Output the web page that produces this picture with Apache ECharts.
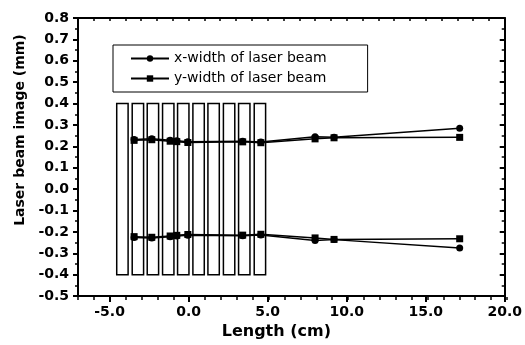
<!DOCTYPE html>
<html>
<head>
<meta charset="utf-8">
<script src="https://cdn.jsdelivr.net/npm/echarts@6/dist/echarts.min.js"></script>
<style>
	html, body {margin: 0; padding: 0; background: #fff;}
	#chart {width: 525px; height: 345px;}
</style>
</head>
<body>
<div id="chart"></div>
<script>
// positions along the beam (cm)
var lengths = [-3.45, -2.33, -1.17, -0.75, -0.05, 3.42, 4.57, 8.0, 9.2, 17.15];
// x-width, upper and lower edge (mm)
var xWidthTop = [0.232, 0.235, 0.228, 0.226, 0.222, 0.224, 0.220, 0.245, 0.242, 0.285];
var xWidthBottom = [-0.226, -0.228, -0.222, -0.219, -0.215, -0.218, -0.214, -0.240, -0.236, -0.275];
// y-width, upper and lower edge (mm)
var yWidthTop = [0.228, 0.231, 0.224, 0.222, 0.218, 0.221, 0.217, 0.235, 0.240, 0.242];
var yWidthBottom = [-0.222, -0.225, -0.219, -0.216, -0.212, -0.215, -0.211, -0.228, -0.235, -0.232];
// the ten plates drawn as boxes (cm start, width) and their height (mm)
var plateStart = [-4.55, -3.57, -2.62, -1.65, -0.70, 0.27, 1.22, 2.20, 3.16, 4.15];
var plateWidth = 0.72;
var plateTop = 0.4, plateBottom = -0.4;
var xMajor = [-5, 0, 5, 10, 15, 20];

var chart = echarts.init(document.getElementById('chart'));

function pairs(ys) {
	var out = [];
	for (var i = 0; i < lengths.length; i++) {
		out.push([lengths[i], ys[i]]);
	}
	return out;
}

var plates = [];
for (var i = 0; i < plateStart.length; i++) {
	plates.push([plateStart[i], plateStart[i] + plateWidth, plateBottom, plateTop]);
}

var fontFam = '"DejaVu Sans", sans-serif';
var black = '#000';
var gridBox = {left: 78, right: 18, top: 18, bottom: 48};

function lineSeries(name, symbol, data) {
	return {
		name: name,
		type: 'line',
		symbol: symbol,
		symbolSize: 7,
		data: data,
		lineStyle: {color: black, width: 1.5},
		itemStyle: {color: black},
		z: 5
	};
}

var option = {
	animation: false,
	backgroundColor: '#fff',
	// second grid sits on the first one, only to carry the small ticks of the bottom axis
	grid: [gridBox, gridBox],
	legend: {
		orient: 'vertical',
		left: 113,
		top: 45,
		data: ['x-width of laser beam', 'y-width of laser beam'],
		itemWidth: 38,
		itemHeight: 8,
		itemGap: 5,
		padding: [6, 41, 6, 17],
		borderColor: black,
		borderWidth: 1,
		textStyle: {color: black, fontFamily: fontFam, fontSize: 14, lineHeight: 15}
	},
	xAxis: [
		{
			type: 'value', position: 'bottom', min: -7, max: 20, interval: 1,
			name: 'Length (cm)', nameLocation: 'middle', nameGap: 26,
			nameTextStyle: {color: black, fontFamily: fontFam, fontSize: 16, fontWeight: 'bold', padding: [0, 30, 0, 0]},
			axisLine: {onZero: false, lineStyle: {color: black, width: 2}},
			axisTick: {show: true, inside: false, length: 6, lineStyle: {width: 2}, customValues: xMajor},
			axisLabel: {color: black, fontFamily: fontFam, fontSize: 14, fontWeight: 'bold', margin: 9,
				customValues: xMajor, formatter: function (v) { return v.toFixed(1); }},
			splitLine: {show: false}
		},
		{
			type: 'value', position: 'top', min: -7, max: 20, interval: 1,
			axisLine: {onZero: false, lineStyle: {color: black, width: 2}},
			axisTick: {show: true, inside: true, length: 3, lineStyle: {width: 1.5}},
			axisLabel: {show: false},
			splitLine: {show: false}
		},
		{
			gridIndex: 1,
			type: 'value', position: 'bottom', min: -7, max: 20, interval: 1,
			axisLine: {show: false, onZero: false},
			axisTick: {show: true, inside: false, length: 3, lineStyle: {color: black, width: 1.5}},
			axisLabel: {show: false},
			splitLine: {show: false}
		}
	],
	yAxis: [
		{
			type: 'value', position: 'left', min: -0.5, max: 0.8, interval: 0.1,
			name: 'Laser beam image (mm)', nameLocation: 'middle', nameGap: 50,
			nameTextStyle: {color: black, fontFamily: fontFam, fontSize: 14, fontWeight: 'bold', padding: [0, 0, 0, 54]},
			axisLine: {onZero: false, lineStyle: {color: black, width: 2}},
			axisTick: {show: true, inside: false, length: 5, lineStyle: {width: 2}},
			minorTick: {show: true, splitNumber: 2, length: 3, lineStyle: {color: black, width: 1.5}},
			axisLabel: {color: black, fontFamily: fontFam, fontSize: 14, fontWeight: 'bold', margin: 9,
				formatter: function (v) { return v.toFixed(1); }},
			splitLine: {show: false}
		},
		{
			type: 'value', position: 'right', min: -0.5, max: 0.8, interval: 0.1,
			axisLine: {onZero: false, lineStyle: {color: black, width: 2}},
			axisTick: {show: true, inside: true, length: 5, lineStyle: {width: 2}},
			minorTick: {show: true, splitNumber: 2, length: 3, lineStyle: {color: black, width: 1.5}},
			axisLabel: {show: false},
			splitLine: {show: false}
		},
		{
			gridIndex: 1,
			type: 'value', min: -0.5, max: 0.8, show: false
		}
	],
	series: [
		{
			type: 'custom',
			silent: true,
			z: 2,
			data: plates,
			renderItem: function (params, api) {
				var p0 = api.coord([api.value(0), api.value(3)]);
				var p1 = api.coord([api.value(1), api.value(2)]);
				return {
					type: 'rect',
					shape: {x: p0[0], y: p0[1], width: p1[0] - p0[0], height: p1[1] - p0[1]},
					style: {fill: 'none', stroke: black, lineWidth: 1.5}
				};
			}
		},
		lineSeries('x-width of laser beam', 'circle', pairs(xWidthTop)),
		lineSeries('x-width of laser beam', 'circle', pairs(xWidthBottom)),
		lineSeries('y-width of laser beam', 'rect', pairs(yWidthTop)),
		lineSeries('y-width of laser beam', 'rect', pairs(yWidthBottom))
	]
};

chart.setOption(option);
</script>
</body>
</html>
